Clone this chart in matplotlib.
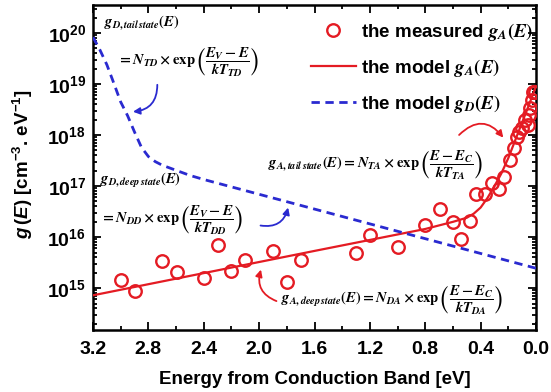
import matplotlib
matplotlib.use("Agg")
import matplotlib.pyplot as plt
import numpy as np
from matplotlib.ticker import LogLocator, MultipleLocator, FixedLocator, LogFormatterMathtext, NullFormatter
from matplotlib.lines import Line2D

plt.rcParams['font.family'] = ['Liberation Sans', 'DejaVu Sans']
plt.rcParams['font.weight'] = 'bold'
plt.rcParams['mathtext.fontset'] = 'custom'
plt.rcParams['mathtext.rm'] = 'Liberation Sans:bold'
plt.rcParams['mathtext.it'] = 'Liberation Sans:italic:bold'
plt.rcParams['mathtext.bf'] = 'Liberation Sans:bold'

# measured g_A(E): energy below Ec [eV], log10 of density
meas_e = [3.00, 2.90, 2.70, 2.59, 2.40, 2.30, 2.20, 2.10, 1.90, 1.80, 1.70,
          1.30, 1.20, 1.00, 0.80, 0.69, 0.60, 0.54, 0.48, 0.43, 0.37, 0.32,
          0.27, 0.23, 0.19, 0.16, 0.14, 0.12, 0.10, 0.08, 0.06, 0.05, 0.04,
          0.03, 0.02, 0.01]
meas_log = [15.16, 14.94, 15.53, 15.31, 15.20, 15.84, 15.33, 15.55, 15.72,
            15.12, 15.55, 15.69, 16.04, 15.80, 16.24, 16.55, 16.29, 15.96,
            16.31, 16.84, 16.84, 17.06, 16.94, 17.18, 17.51, 17.75, 17.96,
            18.06, 18.14, 18.29, 18.20, 18.39, 18.53, 18.69, 18.84, 18.84]

# model g_A(E)
ga_e = [3.2, 1.6, 0.8, 0.6, 0.5, 0.45, 0.4, 0.35, 0.3, 0.25, 0.2, 0.15, 0.1, 0.05, 0.0]
ga_log = [14.86, 15.73, 16.16, 16.30, 16.38, 16.46, 16.58, 16.77, 17.00,
          17.25, 17.55, 17.90, 18.25, 18.60, 18.96]

# model g_D(E)
gd_e = [3.2, 3.15, 3.1, 3.05, 3.0, 2.95, 2.9, 2.85, 2.8, 2.75, 2.7, 2.6, 2.5, 2.4, 0.0]
gd_log = [19.92, 19.67, 19.38, 19.02, 18.65, 18.38, 18.06, 17.76, 17.58,
          17.48, 17.41, 17.31, 17.21, 17.13, 15.39]

y_decades = [1e15, 1e16, 1e17, 1e18, 1e19, 1e20]

red = '#e41b23'
blue = '#2a2ad0'

fig = plt.figure(figsize=(5.51, 3.92), dpi=100)
ax = fig.add_axes([93 / 551, 62 / 392, 443 / 551, 325 / 392])

ax.plot(ga_e, 10 ** np.array(ga_log), color=red, lw=1.6, zorder=3)
ax.plot(gd_e, 10 ** np.array(gd_log), color=blue, lw=2.0, ls=(0, (3, 2)), zorder=3)
ax.plot(meas_e, 10 ** np.array(meas_log), ls='none', marker='o', ms=9,
        mfc='none', mec=red, mew=1.7, zorder=4)

ax.set_yscale('log')
ax.set_xlim(3.2, 0.0)
ax.set_ylim(10 ** 14.18, 10 ** 20.55)

ax.xaxis.set_major_locator(MultipleLocator(0.4))
ax.xaxis.set_minor_locator(MultipleLocator(0.2))
ax.yaxis.set_major_locator(FixedLocator(y_decades))
ax.yaxis.set_minor_locator(LogLocator(base=10, subs=np.arange(2, 10), numticks=20))
ax.yaxis.set_major_formatter(LogFormatterMathtext())
ax.yaxis.set_minor_formatter(NullFormatter())
ax.tick_params(which='both', direction='in', top=True, right=True, width=1.3)
ax.tick_params(which='major', length=6, labelsize=14)
ax.tick_params(axis='x', which='major', pad=8)
ax.tick_params(axis='y', which='major', pad=5)
ax.tick_params(which='minor', length=3)
for lab in ax.get_xticklabels() + ax.get_yticklabels():
    lab.set_fontweight('bold')
for s in ax.spines.values():
    s.set_linewidth(1.8)

ax.set_xlabel('Energy from Conduction Band [eV]', fontsize=13.5, fontweight='bold')
ax.xaxis.set_label_coords(0.5, -0.125)
ax.set_ylabel(r'$g\,(E)$ [cm$^{-3}$. eV$^{-1}$]', fontsize=13.5, fontweight='bold')
ax.yaxis.set_label_coords(-0.131, 0.51)

handles = [Line2D([], [], ls='none', marker='o', ms=9, mfc='none', mec=red, mew=1.7),
           Line2D([], [], color=red, lw=1.6),
           Line2D([], [], color=blue, lw=2.0, ls=(0, (3, 2)))]
labels = [r'the measured $g_A(E)$', r'the model $g_A(E)$', r'the model $g_D(E)$']
leg = ax.legend(handles, labels, loc='upper right', bbox_to_anchor=(1.01, 0.975),
                frameon=False, fontsize=13.5, handlelength=2.4, handletextpad=0.25,
                labelspacing=0.75, borderaxespad=0.0)
for t in leg.get_texts():
    t.set_math_fontfamily('stix')

eq = dict(transform=ax.transAxes, fontsize=10.5, math_fontfamily='stix', va='center', ha='left')
ax.text(0.025, 0.947, r'$g_{D,tail\,state}(E)$', **eq)
ax.text(0.055, 0.825, r'$= N_{TD}\times\exp\left(\dfrac{E_V-E}{kT_{TD}}\right)$', **eq)
ax.text(0.016, 0.46, r'$g_{D,deep\,state}(E)$', **eq)
ax.text(0.016, 0.338, r'$= N_{DD}\times\exp\left(\dfrac{E_V-E}{kT_{DD}}\right)$', **eq)
ax.text(0.395, 0.508, r'$g_{A,tail\,state}(E) = N_{TA}\times\exp\left(\dfrac{E-E_C}{kT_{TA}}\right)$', **eq)
ax.text(0.425, 0.092, r'$g_{A,deep\,state}(E) = N_{DA}\times\exp\left(\dfrac{E-E_C}{kT_{DA}}\right)$', **eq)

arr = dict(xycoords='axes fraction', textcoords='axes fraction')
ax.annotate('', xy=(0.084, 0.671), xytext=(0.145, 0.763), **arr,
            arrowprops=dict(arrowstyle='-|>', color=blue, lw=1.3, mutation_scale=10,
                            connectionstyle='arc3,rad=-0.5'))
ax.annotate('', xy=(0.442, 0.385), xytext=(0.372, 0.323), **arr,
            arrowprops=dict(arrowstyle='-|>', color=blue, lw=1.3, mutation_scale=10,
                            connectionstyle='arc3,rad=0.5'))
ax.annotate('', xy=(0.930, 0.585), xytext=(0.822, 0.594), **arr,
            arrowprops=dict(arrowstyle='-|>', color=red, lw=1.3, mutation_scale=10,
                            connectionstyle='arc3,rad=-0.6'))
ax.annotate('', xy=(0.381, 0.194), xytext=(0.420, 0.086), **arr,
            arrowprops=dict(arrowstyle='-|>', color=red, lw=1.3, mutation_scale=10,
                            connectionstyle='arc3,rad=-0.5'))

fig.savefig('out.png', dpi=100)
